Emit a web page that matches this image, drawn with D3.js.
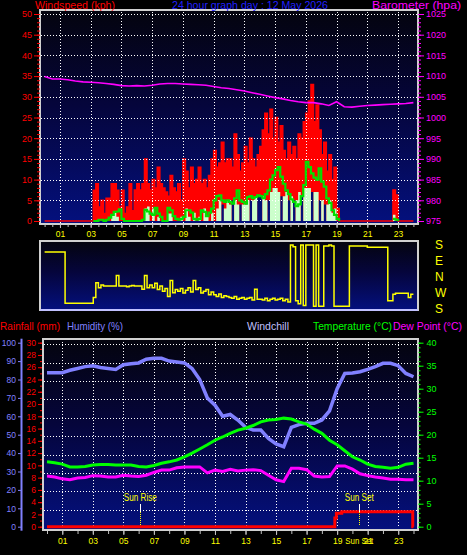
<!DOCTYPE html>
<html><head><meta charset="utf-8">
<script src="https://cdn.jsdelivr.net/npm/d3@7/dist/d3.min.js"></script>
<style>
body{margin:0;background:#000;}
svg{display:block;}
</style></head><body>
<svg id="c" width="467" height="555"></svg>
<script>
// ---------------- DATA ----------------
const titleText = "24 hour graph day : 12 May 2026";
const hourLabels = ["01","03","05","07","09","11","13","15","17","19","21","23"];
const hourTicks = [1,3,5,7,9,11,13,15,17,19,21,23];
const dirLabels = ["S","E","N","W","S"];

// 10-minute samples (144), wind gust kph
const gust10 = [
 0,0,0,0,0,0, 0,0,0,0,0,0, 0,0,0,0,0,0,
 0,7.4,9,3.4,5,1.8,
 5.5,5.5,9,9,7.4,3.4,
 7.4,1.8,3.4,9,2.5,7.5,
 9,7.5,9,15,9,7.5,
 10,8,13,9,8,7,
 6,11,8,7,9,5,
 15,12,8,13,9,10,
 13,9,10,8,11,15,
 17,13,14,19,14,15,
 15,13,21,16,12,14,
 18,14,20,15,13,16,
 18,22,26,21,27,20,
 25,19,23,17,15,19,
 16,18,15,21,20,24,
 26,29,33,24,28,22,
 16,19,12,16,10,13,
 3,0,0,0,0,0,
 0,0,0,0,0,0,
 0,0,0,0,0,0,
 0,0,0,0,7.5,6.3,
 0,0,0,0,0,0];
// 10-minute wind lull kph (lower end of the gust bar)
const lull10 = [
 0,0,0,0,0,0, 0,0,0,0,0,0, 0,0,0,0,0,0,
 0,0,0,0,0,0, 0,0,0,0,0,0, 0,0,0,0,0,0,
 0,0,0,0,0,0, 0,0,0,0,0,0, 0,0,0,0,0,0,
 0,0,0,0,0,0, 0,0,0,0,0,0,
 0,0,0,4,0,0,
 0,5,0,0,4,0,
 0,0,5,0,0,6,
 6,0,0,5,0,0,
 0,0,6,0,0,5,
 0,5,0,0,6,0,
 0,0,7,0,0,5,
 0,4,0,0,0,0,
 0,0,0,0,0,0, 0,0,0,0,0,0, 0,0,0,0,0,0,
 0,0,0,0,0,0, 0,0,0,0,0,0];
// 10-minute wind speed kph
const wind10 = [
 0,0,0,0,0,0, 0,0,0,0,0,0, 0,0,0,0,0,0,
 0,0,0,0,0,0,
 0,0,1.5,2,1,0,
 0,0,0,0,0,0,
 0,0,0,3,3.5,0,
 3,0,1,0,0,0,
 1.8,1.8,0,0,0,1,
 0,3,1,0,2,0,
 1,0,3,1,0,2,
 0,3,5,0,3,5,
 4,0,5,4,0,4,
 4,5,0,5,6,0,
 0,6,5,0,7,8,
 8,7,0,6,7,0,
 6,0,5,7,0,8,
 8,8,0,7,7,0,
 5,0,4,5,2,3,
 0,0,0,0,0,0,
 0,0,0,0,0,0,
 0,0,0,0,0,0,
 0,0,0,0,1.5,0,
 0,0,0,0,0,0];
// 10-minute average wind kph (null = not drawn)
const avg10 = [
 null,null,null,null,null,null, null,null,null,null,null,null, null,null,null,null,null,null,
 null,0,0,0.3,0.3,0,
 0.3,0.8,1.5,2.2,2.3,2.8,
 0.5,0,0,0,0,0,
 0,0,0.3,2.7,2.3,1.8,
 1.5,3.2,1.8,1.0,0,0,
 3.2,2.6,1.2,0.5,0.3,0.5,
 1,2.6,2.6,2,0.5,0.3,
 0.5,2.6,2.2,1.2,2,3,
 5,6,6.2,5,4.6,5,
 4.6,4.2,5.5,7.4,5,4.6,
 4.2,5.8,6,5.5,5.8,6.2,
 6,5.5,6.5,7.4,10,11,
 12.3,13,10.7,9,7.4,6.5,
 5.2,4.6,3.6,4,6,8.7,
 14.3,13,11.5,10.5,10,12.7,
 9.5,8.3,5.5,4.4,2.6,1.5,
 0.5,0,null,null,null,null,
 null,null,null,null,null,null,
 null,null,null,null,null,null,
 null,null,null,null,0.5,0.3,
 0,null,null,null,null,null];
// 10-minute wind direction, plotted position (0 = S top, 90 = E, 180 = N, 270 = W, 360 = S bottom)
const dir10 = [
 40,40,40,40,40,40,
 40,40,327,327,327,327,
 327,327,327,327,327,327,
 327,295,212,240,225,231,
 231,231,231,231,172,231,
 231,231,235,231,228,231,
 231,231,249,172,240,225,
 240,215,250,230,260,245,
 290,200,268,250,260,245,
 270,255,240,265,200,250,
 240,270,260,250,280,265,
 280,290,275,295,285,290,
 295,300,290,305,300,295,
 305,300,295,310,249,305,
 305,310,300,314,305,300,
 310,305,300,314,305,320,
 0,10,314,330,0,340,
 0,0,0,345,0,345,
 345,5,5,0,5,345,
 345,345,345,345,345,5,
 5,5,5,5,5,5,
 13,13,13,13,13,13,
 13,13,314,314,277,271,
 271,271,271,271,295,277];
// 30-minute samples (49)
const baro30 = [1009.9,1009.3,1009.3,1009.1,1008.8,1008.6,1008.5,1008.4,1008.2,1008.0,
 1007.7,1007.6,1007.7,1007.6,1007.8,1008.1,1008.2,1008.2,1008.1,1008.0,
 1007.9,1007.8,1007.5,1007.2,1007.0,1006.7,1006.4,1006.0,1005.6,1005.2,
 1004.8,1004.5,1004.1,1003.8,1003.6,1003.6,1003.3,1002.9,1003.8,1002.6,
 1002.5,1002.7,1002.9,1003.0,1003.1,1003.2,1003.3,1003.4,1003.6];
const hum30 = [83.7,83.7,83.7,85,86,87,87.5,86.5,86,85.5,
 88,88.6,89,91,91.5,91.5,90,89.5,89,86,
 80,70,66,60,61,58,54,52.5,52.5,48,
 45,43.5,54,55.5,56.2,56.2,58,63,75,83.3,
 83.5,84.2,85.5,87,88.8,88.8,87.5,83.3,81.5];
const temp30 = [14.1,13.9,13.6,13.0,13.0,13.1,13.4,13.5,13.5,13.4,
 13.4,13.4,13.1,13.0,13.3,13.8,14.1,14.5,15.2,16.0,
 16.9,17.8,18.8,19.5,20.3,21.0,21.4,22.0,22.8,23.2,
 23.3,23.6,23.4,22.8,22.3,21.2,20.3,18.8,17.8,16.5,
 15.2,14.5,13.6,13.1,12.9,12.7,12.9,13.6,13.8];
const dew30 = [11.0,10.8,10.4,10.2,10.6,10.7,11.1,11.0,10.8,10.8,
 11.2,11.0,10.9,11.2,11.8,12.3,12.3,12.8,13.0,13.0,
 13.0,11.7,12.3,12.0,12.5,12.1,12.3,12.4,12.2,11.2,
 10.2,9.8,12.7,12.7,12.4,11.0,10.8,10.9,13.2,13.2,
 12.5,11.5,11.1,10.8,10.6,10.3,10.3,10.2,10.2];
const rainHours = [0, 18.85, 18.95, 19.3, 23.95, 24];
const rainMm    = [0, 1.4,   2.2,   2.45, 0,     0];
const sunRise = 6.11, sunSet = 20.45;

// ---------------- DRAW ----------------
const FONT = "'Liberation Sans', Arial, sans-serif";
const svg = d3.select("#c");
svg.append("rect").attr("width",467).attr("height",555).attr("fill","#000");
const defs = svg.append("defs");
function grad(id){
  const g = defs.append("linearGradient").attr("id",id).attr("x1",0).attr("x2",0).attr("y1",0).attr("y2",1);
  g.append("stop").attr("offset","0%").attr("stop-color","#04040e");
  g.append("stop").attr("offset","45%").attr("stop-color","#05053c");
  g.append("stop").attr("offset","100%").attr("stop-color","#04107e");
}
grad("gT"); grad("gD"); grad("gB");

const xT = d3.scaleLinear().domain([0,24]).range([44.6,413.4]);
const yW = d3.scaleLinear().domain([0,50]).range([221,14]);
const yBa = d3.scaleLinear().domain([975,1025]).range([221,14]);
const yD = d3.scaleLinear().domain([0,360]).range([245,309]);
const xB = d3.scaleLinear().domain([0,24]).range([47,413.5]);
const yH = d3.scaleLinear().domain([0,100]).range([526.7,342.7]);
const yR = d3.scaleLinear().domain([0,30]).range([526.7,342.7]);
const yT = d3.scaleLinear().domain([0,40]).range([526.7,342.7]);

const pts10 = (a,b) => { const p = a.map((v,i)=>({t:i/6,v,lo:b?b[i]:0})); p.push({t:24,v:a[a.length-1],lo:b?b[b.length-1]:0}); return p; };
const pts30 = a => a.map((v,i)=>({t:i/2,v}));
const crisp = v => Math.round(v)+0.5;

// panel backgrounds
svg.append("rect").attr("x",40).attr("y",10).attr("width",378).attr("height",214).attr("fill","url(#gT)");
svg.append("rect").attr("x",40).attr("y",241).attr("width",378).attr("height",69).attr("fill","url(#gD)");
svg.append("rect").attr("x",42.7).attr("y",339.3).attr("width",375).attr("height",190.7).attr("fill","url(#gB)");

// ---- top panel data ----
const stepArea = (x,y) => d3.area().x(d=>x(d.t)).y0(d=>y(d.lo)).y1(d=>y(d.v)).curve(d3.curveStepAfter);
const stepLine = (x,y) => d3.line().x(d=>x(d.t)).y(d=>y(d.v)).curve(d3.curveStepAfter);
svg.append("path").datum(pts10(gust10,lull10)).attr("d",stepArea(xT,yW)).attr("fill","#ff0000");
svg.append("path").datum(pts10(gust10)).attr("d",stepLine(xT,yW)).attr("fill","none").attr("stroke","#ff0000").attr("stroke-width",1.5);
svg.append("path").datum(pts10(wind10)).attr("d",stepArea(xT,yW)).attr("fill","#ccffcc");

// grid top
const gT = svg.append("g").attr("stroke","#fff").attr("stroke-dasharray","1,2").attr("shape-rendering","crispEdges");
gT.selectAll("line.h").data(d3.range(5,51,5)).join("line").attr("class","h")
  .attr("x1",41).attr("x2",417).attr("y1",d=>crisp(yW(d))).attr("y2",d=>crisp(yW(d)));
gT.selectAll("line.v").data(hourTicks).join("line").attr("class","v")
  .attr("y1",12).attr("y2",223).attr("x1",d=>crisp(xT(d))).attr("x2",d=>crisp(xT(d)));

svg.append("path").datum(pts10(avg10)).attr("d",stepLine(xT,yW).defined(d=>d.v!==null))
  .attr("fill","none").attr("stroke","#00e000").attr("stroke-width",2.2);
svg.append("path").datum(pts30(baro30)).attr("d",d3.line().x(d=>xT(d.t)).y(d=>yBa(d.v)))
  .attr("fill","none").attr("stroke","#ff00ff").attr("stroke-width",1.6);

// direction
svg.append("path").datum(pts10(dir10)).attr("d",stepLine(xT,yD))
  .attr("fill","none").attr("stroke","#ffff00").attr("stroke-width",1.5);

// ---- bottom panel ----
const gB = svg.append("g").attr("stroke","#fff").attr("stroke-dasharray","1,2").attr("shape-rendering","crispEdges");
gB.selectAll("line.h").data(d3.range(10,101,10)).join("line").attr("class","h")
  .attr("x1",44).attr("x2",417).attr("y1",d=>crisp(yH(d)+1.5)).attr("y2",d=>crisp(yH(d)+1.5));
gB.selectAll("line.v").data(hourTicks).join("line").attr("class","v")
  .attr("y1",342).attr("y2",528).attr("x1",d=>crisp(xB(d))).attr("x2",d=>crisp(xB(d)));

const lin = (y) => d3.line().x(d=>xB(d.t)).y(d=>y(d.v));
svg.append("path").datum(pts30(hum30)).attr("d",lin(yH)).attr("fill","none").attr("stroke","#8080ff").attr("stroke-width",3.5);
svg.append("path").datum(pts30(temp30)).attr("d",lin(yT)).attr("fill","none").attr("stroke","#00ff00").attr("stroke-width",3);
svg.append("path").datum(pts30(dew30)).attr("d",lin(yT)).attr("fill","none").attr("stroke","#ff00ff").attr("stroke-width",3);
const rainPts = rainHours.map((t,i)=>({t,v:rainMm[i]}));
svg.append("path").datum(rainPts).attr("d",d3.line().x(d=>xB(d.t)).y(d=>yR(d.v)).curve(d3.curveStepAfter))
  .attr("fill","none").attr("stroke","#ff0000").attr("stroke-width",3);

// sun markers
[[sunRise,"Sun Rise"],[sunSet,"Sun Set"]].forEach(([h,lab])=>{
  const x = crisp(xB(h));
  svg.append("line").attr("x1",x).attr("x2",x).attr("y1",504).attr("y2",512).attr("stroke","#fff").attr("stroke-width",1);
  svg.append("line").attr("x1",x).attr("x2",x).attr("y1",512).attr("y2",526).attr("stroke","#ffff00").attr("stroke-width",1).attr("stroke-dasharray","1,1");
  svg.append("text").attr("x",xB(h)).attr("y",500.5).attr("text-anchor","middle").attr("fill","#ffff00")
    .attr("font-family",FONT).attr("font-size",10).attr("textLength",lab==="Sun Rise"?33:29).attr("lengthAdjust","spacingAndGlyphs").text(lab);
});

// ---- frames ----
const fr = svg.append("g").attr("fill","none").attr("shape-rendering","crispEdges");
fr.append("rect").attr("x",40).attr("y",10).attr("width",378).attr("height",214).attr("stroke","#d0d0d0").attr("stroke-width",2);
fr.append("rect").attr("x",40).attr("y",241).attr("width",378).attr("height",69).attr("stroke","#d0d0d0").attr("stroke-width",1.5);
fr.append("line").attr("x1",40).attr("x2",418).attr("y1",309.5).attr("y2",309.5).attr("stroke","#c0c0ff").attr("stroke-width",2);
fr.append("rect").attr("x",42.7).attr("y",339.3).attr("width",375).attr("height",190.7).attr("stroke","#d0d0d0").attr("stroke-width",2);

// ---- axes ----
function ax(gen, x, y, color, fs, tickColor){
  const g = svg.append("g").attr("transform",`translate(${x},${y})`).call(gen);
  g.attr("font-family",FONT).attr("font-size",fs);
  g.select(".domain").remove();
  g.selectAll("line").attr("stroke",tickColor||color);
  g.selectAll("text").attr("fill",color);
  return g;
}
const fmt = d3.format("d");
// top left windspeed
ax(d3.axisLeft(yW).tickValues(d3.range(0,51,1)).tickSize(3).tickFormat(""),40,0,"#ff0000",9);
ax(d3.axisLeft(yW).tickValues(d3.range(0,51,5)).tickSize(6).tickPadding(2).tickFormat(fmt),40,0,"#ff0000",9);
// top right barometer
ax(d3.axisRight(yBa).tickValues(d3.range(975,1026,1)).tickSize(3).tickFormat(""),418,0,"#ff00ff",9);
ax(d3.axisRight(yBa).tickValues(d3.range(975,1026,5)).tickSize(6).tickPadding(2).tickFormat(fmt),418,0,"#ff00ff",9);
// top hours
ax(d3.axisBottom(xT).tickValues(d3.range(0,24.01,0.5)).tickSize(3).tickFormat(""),0,224,"#ffff00",8,"#c0c0c0");
ax(d3.axisBottom(xT).tickValues(hourTicks).tickSize(4).tickPadding(3).tickFormat((d,i)=>hourLabels[i]),0,224,"#ffff00",8.5,"#c0c0c0");
// direction labels
ax(d3.axisRight(yD).tickValues([0,90,180,270,360]).tickSize(0).tickPadding(0).tickFormat((d,i)=>dirLabels[i]),435,0,"#ffff00",12);
// bottom left humidity
ax(d3.axisLeft(yH).tickValues(d3.range(0,101,10)).tickSize(4).tickPadding(2).tickFormat(fmt),22,0,"#8080ff",8.5);
svg.append("line").attr("x1",21.5).attr("x2",21.5).attr("y1",yH(100)-4).attr("y2",yH(0)+4).attr("stroke","#8080ff").attr("stroke-width",2);
// rain axis
ax(d3.axisLeft(yR).tickValues(d3.range(0,31,1)).tickSize(2).tickFormat(""),42,0,"#ff0000",8.5);
ax(d3.axisLeft(yR).tickValues(d3.range(0,31,2)).tickSize(4).tickPadding(2).tickFormat(fmt),42,0,"#ff0000",8.5);
// temp axis
ax(d3.axisRight(yT).tickValues(d3.range(0,41,1)).tickSize(2).tickFormat(""),418.5,0,"#00ff00",8.5);
ax(d3.axisRight(yT).tickValues(d3.range(0,41,5)).tickSize(5).tickPadding(3).tickFormat(fmt),418.5,0,"#00ff00",9);
// bottom hours
ax(d3.axisBottom(xB).tickValues(d3.range(0,25,1)).tickSize(3).tickFormat(""),0,531,"#ffff00",8,"#c0c0c0");
ax(d3.axisBottom(xB).tickValues(hourTicks).tickSize(4).tickPadding(3).tickFormat((d,i)=>hourLabels[i]),0,531,"#ffff00",8.5,"#c0c0c0");
svg.append("text").attr("x",xB(sunSet)).attr("y",544).attr("text-anchor","middle").attr("fill","#ffff00")
  .attr("font-family",FONT).attr("font-size",9).attr("textLength",28).attr("lengthAdjust","spacingAndGlyphs").text("Sun Set");

// ---- headers ----
function hdr(txt,x,y,color,len,fs){
  svg.append("text").attr("x",x).attr("y",y).attr("fill",color).attr("font-family",FONT).attr("font-size",fs||11)
    .attr("textLength",len).attr("lengthAdjust","spacingAndGlyphs").text(txt);
}
hdr("Windspeed (kph)",35,9,"#ff0000",80);
hdr(titleText,172,9,"#2020ff",156);
hdr("Barometer (hpa)",372,8.5,"#ff00ff",89,10.5);
hdr("Rainfall (mm)",0,330,"#ff0000",60);
hdr("Humidity (%)",67,330,"#8080ff",56);
hdr("Windchill",247,330,"#c0c0ff",42);
hdr("Temperature (°C)",313,330,"#00ff00",79);
hdr("Dew Point (°C)",393,330,"#ff00ff",69);
</script>
</body></html>
